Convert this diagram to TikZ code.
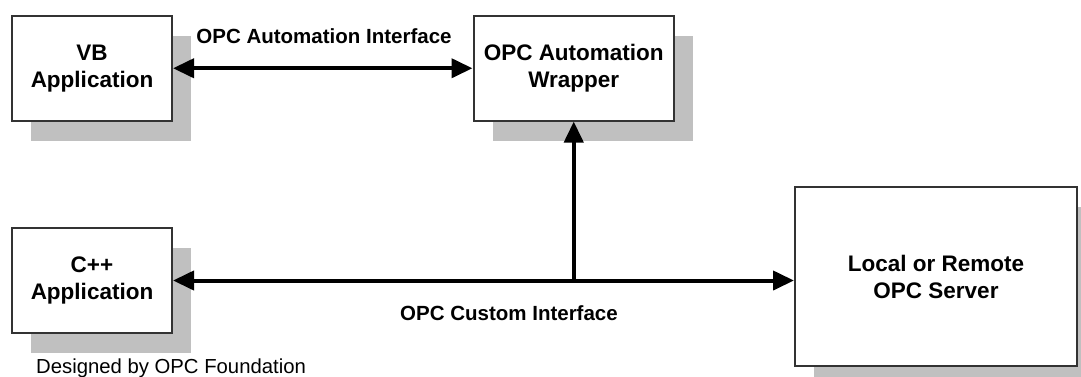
\documentclass[tikz,border=0pt]{standalone}
\usepackage{fontspec}
\setmainfont{Liberation Sans}
\usetikzlibrary{arrows.meta,shadows}
\definecolor{shadowgray}{HTML}{C0C0C0}
\definecolor{boxline}{HTML}{333333}
\tikzset{
  box/.style={draw=boxline, line width=2pt, fill=white, align=center,
    font=\fontsize{22.5}{27}\selectfont\bfseries, inner sep=0pt,
    drop shadow={shadow xshift=19pt, shadow yshift=-20pt, fill=shadowgray, opacity=1}},
  conn/.style={line width=4pt, draw=black,
    arrows={-Triangle[length=21pt,width=19pt]}},
  biconn/.style={line width=4pt, draw=black,
    arrows={Triangle[length=21pt,width=19pt]-Triangle[length=21pt,width=19pt]}},
  lbl/.style={font=\fontsize{20.5}{24}\selectfont\bfseries, inner sep=0pt},
  note/.style={font=\fontsize{20.3}{24}\selectfont, inner sep=0pt}
}
\begin{document}
\begin{tikzpicture}[x=1pt,y=-1pt]
\useasboundingbox (0,0) rectangle (1081,376);
\node[box, minimum width=160pt, minimum height=104.5pt] (vb) at (92,68.25) {VB\\Application};
\node[box, minimum width=200.5pt, minimum height=104.5pt] (wr) at (573.75,68.25) {OPC Automation\\Wrapper};
\node[box, minimum width=160pt, minimum height=105pt] (cpp) at (92,280.5) {C++\\Application};
\node[box, minimum width=282pt, minimum height=179pt] (srv) at (936,276.5) {Local or Remote\\OPC Server};
\coordinate (j) at (wr.south |- cpp.east);
\draw[biconn] (vb.east) -- (wr.west);
\draw[biconn] (cpp.east) -- (cpp.east -| srv.west);
\draw[conn] (j) -- (wr.south);
\node[lbl] (l1) at (324,36) {OPC Automation Interface};
\node[lbl] (l2) at (509,313) {OPC Custom Interface};
\node[note, anchor=west] (l3) at (36,368) {Designed by OPC Foundation};
\end{tikzpicture}
\end{document}
